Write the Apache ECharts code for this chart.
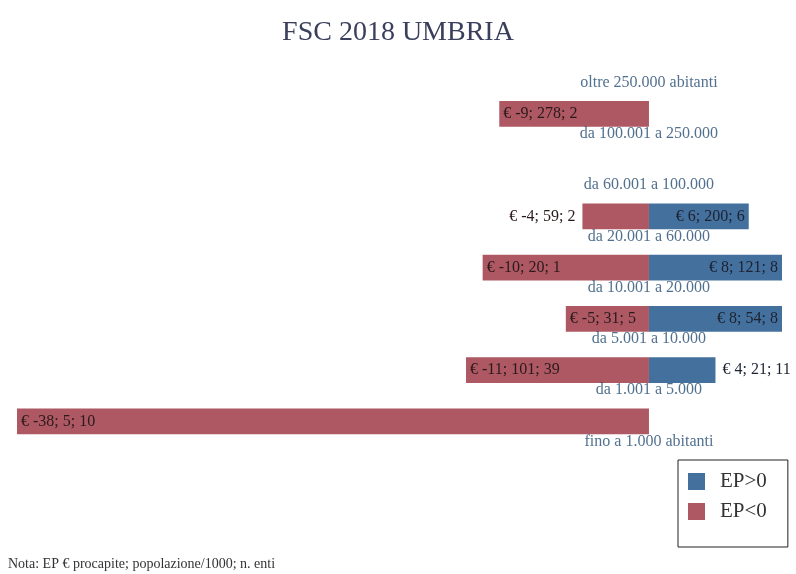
<!DOCTYPE html>
<html>
<head>
<meta charset="utf-8">
<title>FSC 2018 UMBRIA</title>
<script src="https://cdn.jsdelivr.net/npm/echarts@6/dist/echarts.min.js"></script>
<style>
  html, body { margin: 0; padding: 0; background: #ffffff; }
  #chart { width: 796px; height: 574px; }
</style>
</head>
<body>
<div id="chart"></div>
<script>
// Population classes, listed from top to bottom
const categories = [
  'oltre 250.000 abitanti',
  'da 100.001 a 250.000',
  'da 60.001 a 100.000',
  'da 20.001 a 60.000',
  'da 10.001 a 20.000',
  'da 5.001 a 10.000',
  'da 1.001 a 5.000',
  'fino a 1.000 abitanti'
];

// EP > 0: euro per capita, population / 1000, number of entities
const posEP   = [null, null, null, 6, 8, 8, 4, null];
const posPop  = [null, null, null, 200, 121, 54, 21, null];
const posEnti = [null, null, null, 6, 8, 8, 11, null];

// EP < 0: euro per capita, population / 1000, number of entities
const negEP   = [null, -9, null, -4, -10, -5, -11, -38];
const negPop  = [null, 278, null, 59, 20, 31, 101, 5];
const negEnti = [null, 2, null, 2, 1, 5, 39, 10];

const legendNames = ['EP>0', 'EP<0'];
const noteText = 'Nota: EP \u20ac procapite; popolazione/1000; n. enti';

const SERIF = '"Liberation Serif", "Times New Roman", serif';
const BLUE = '#44709e';
const RED = '#ad5862';

// Short bars carry their label outside the bar end
function barData(values, pops, entis, positive) {
  return values.map((v, i) => {
    if (v === null) return null;
    const outside = Math.abs(v) < 5;
    return {
      value: v,
      label: {
        position: positive ? (outside ? 'right' : 'insideRight')
                           : (outside ? 'left' : 'insideLeft'),
        distance: outside ? 7 : 4,
        formatter: '\u20ac ' + v + '; ' + pops[i] + '; ' + entis[i]
      }
    };
  });
}

const chart = echarts.init(document.getElementById('chart'), null, { renderer: 'canvas' });

chart.setOption({
  animation: false,
  backgroundColor: '#ffffff',
  title: {
    text: 'FSC 2018 UMBRIA',
    left: 'center',
    top: 14,
    textStyle: { fontFamily: SERIF, fontSize: 28, fontWeight: 'normal', color: '#3a3f5c' }
  },
  legend: {
    data: legendNames,
    orient: 'vertical',
    left: 678,
    top: 460,
    borderColor: '#222',
    borderWidth: 1,
    padding: [11, 21, 25, 10],
    itemWidth: 17,
    itemHeight: 17,
    itemGap: 9,
    icon: 'rect',
    textStyle: { fontFamily: SERIF, fontSize: 21, color: '#333', padding: [0, 0, 0, 10] }
  },
  graphic: [{
    type: 'text',
    left: 8,
    top: 557,
    style: { text: noteText, font: '14px ' + SERIF, fill: '#333' }
  }],
  grid: { left: 17, right: 14, top: 37, bottom: 127 },
  xAxis: {
    type: 'value',
    min: -38,
    max: 8,
    show: false,
    splitLine: { show: false }
  },
  yAxis: {
    type: 'category',
    data: categories,
    inverse: true,
    show: false
  },
  series: [
    {
      name: legendNames[0],
      type: 'bar',
      stack: 'ep',
      barWidth: '50%',
      itemStyle: { color: BLUE },
      label: { show: true, fontFamily: SERIF, fontSize: 16, color: '#1c2230' },
      data: barData(posEP, posPop, posEnti, true)
    },
    {
      name: legendNames[1],
      type: 'bar',
      stack: 'ep',
      barWidth: '50%',
      itemStyle: { color: RED },
      label: { show: true, fontFamily: SERIF, fontSize: 16, color: '#2a1a1c' },
      data: barData(negEP, negPop, negEnti, false)
    },
    {
      // class names written at the zero line, just under each row
      type: 'scatter',
      symbolSize: 0,
      z: 5,
      silent: true,
      data: categories.map(c => [0, c]),
      label: {
        show: true,
        position: 'inside',
        offset: [0, 20],
        align: 'center',
        verticalAlign: 'middle',
        fontFamily: SERIF,
        fontSize: 16,
        color: '#264c72',
        formatter: p => p.value[1]
      }
    }
  ]
});
</script>
</body>
</html>
